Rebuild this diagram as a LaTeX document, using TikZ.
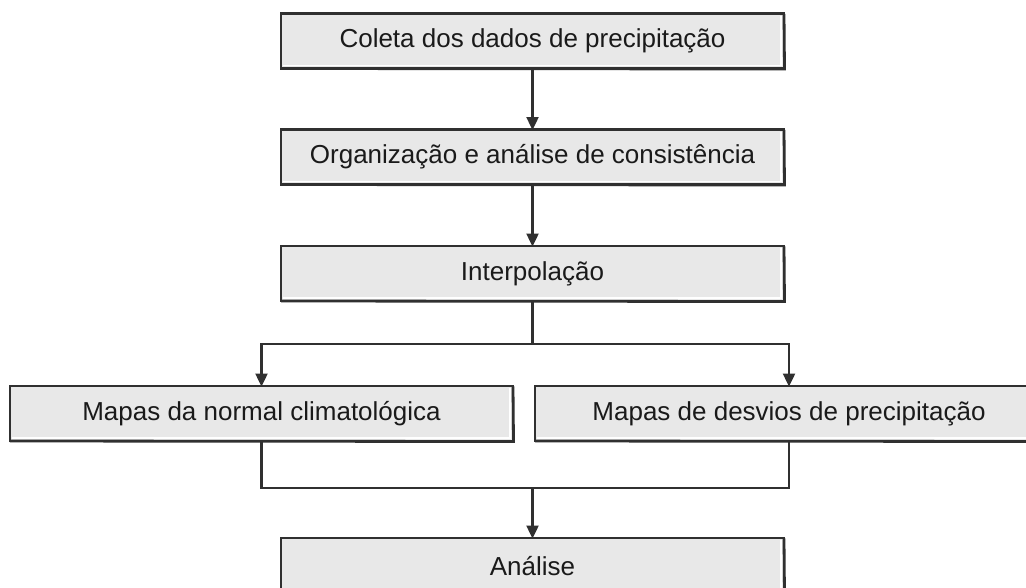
\documentclass[tikz,border=0pt]{standalone}
\usepackage{fontspec}
\setmainfont{Liberation Sans}
\usetikzlibrary{arrows.meta}
\definecolor{boxfill}{HTML}{E8E8E8}
\definecolor{edge}{HTML}{303030}
\definecolor{ink}{HTML}{1A1A1A}
\begin{document}
\begin{tikzpicture}[x=1pt,y=-1pt,
  stepbox/.style={draw=edge, fill=boxfill, line width=2.1pt, minimum width=503pt, minimum height=55pt,
    inner sep=0pt, outer sep=0pt, text=ink, font=\fontsize{26}{30}\selectfont},
  link/.style={draw=edge, line width=2.4pt},
  conn/.style={link, -{Triangle[length=13pt,width=12pt]}, shorten >=-0.5pt},
  shade/.style={draw=edge, line width=2.8pt}]
\useasboundingbox (0,0) rectangle (1026,587);
\fill[white] (0,0) rectangle (1026,587);

\node[stepbox] (b1) at (532.5,41) {Coleta dos dados de precipitação};
\node[stepbox] (b2) at (532.5,157) {Organização e análise de consistência};
\node[stepbox] (b3) at (532.5,273.5) {Interpolação};
\node[stepbox] (L) at (261.5,413.5) {Mapas da normal climatológica};
\node[stepbox, minimum width=508pt] (R) at (789,413.5) {Mapas de desvios de precipitação};
\node[stepbox, minimum height=56pt] (A) at (532.5,566) {Análise};

\foreach \n in {b1,b2,b3,L,R,A}{
  \draw[white, line width=1.2pt] ([xshift=2pt,yshift=3pt]\n.south west) -- ([xshift=-3pt,yshift=3pt]\n.south east) -- ([xshift=-3pt,yshift=-2pt]\n.north east);
  \draw[shade] ([yshift=-0.5pt]\n.north east) -- ([xshift=0.5pt,yshift=-0.5pt]\n.south east) -- (\n.south west);
}

\coordinate (split) at (532.5,344);
\coordinate (merge) at (532.5,488);

\draw[conn] (b1) -- (b2);
\draw[conn] (b2) -- (b3);
\draw[link] (b3.south) -- (split);
\draw[conn] (split) -| (L.north);
\draw[conn] (split) -| (R.north);
\draw[link] (L.south) |- (merge);
\draw[link] (R.south) |- (merge);
\draw[conn] (merge) -- (A.north);
\end{tikzpicture}
\end{document}
